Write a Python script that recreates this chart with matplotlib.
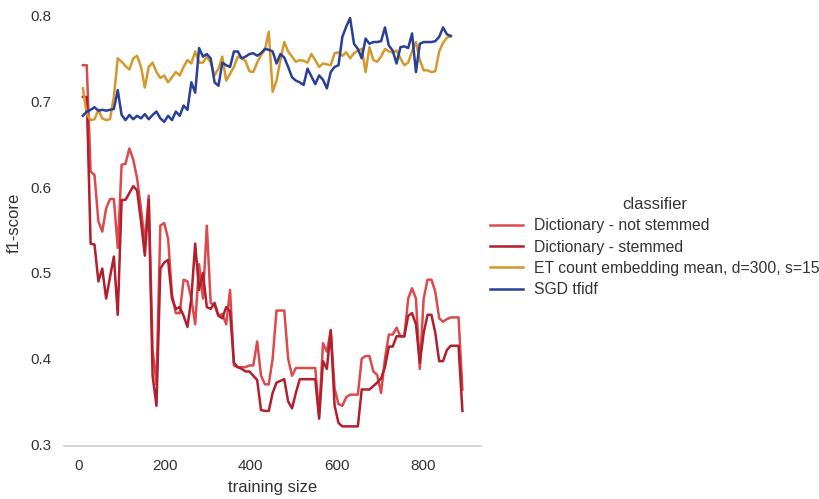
import numpy as np
import matplotlib
matplotlib.use("Agg")
import matplotlib.pyplot as plt

plt.rcParams['font.family'] = ['Liberation Sans', 'DejaVu Sans']

# training sizes (shared grid)
train_size = list(range(10, 893, 9))          # 99 points
train_size_short = train_size[:96]            # last two classifiers stop earlier

dict_not_stemmed = [
    .742, .742, .618, .614, .560, .548, .575, .586, .586, .529,
    .626, .627, .645, .632, .610, .575, .535, .590, .410, .370,
    .555, .558, .540, .475, .453, .453, .492, .490, .470, .440,
    .510, .470, .555, .465, .462, .450, .452, .440, .480, .392,
    .390, .390, .390, .392, .392, .420, .380, .370, .370, .400,
    .456, .456, .456, .400, .380, .389, .389, .389, .389, .389,
    .389, .335, .418, .408, .433, .365, .347, .345, .355, .358,
    .358, .358, .400, .403, .403, .385, .381, .360, .400, .428,
    .428, .436, .426, .426, .470, .482, .470, .388, .470, .492,
    .492, .478, .447, .443, .446, .448, .448, .448, .364]

dict_stemmed = [
    .705, .705, .534, .533, .490, .505, .470, .495, .519, .451,
    .585, .585, .593, .601, .596, .560, .520, .585, .380, .345,
    .505, .512, .515, .470, .458, .460, .450, .437, .470, .534,
    .480, .500, .460, .458, .465, .450, .447, .460, .455, .395,
    .390, .388, .385, .385, .380, .375, .340, .339, .339, .360,
    .372, .374, .376, .350, .342, .360, .376, .376, .376, .376,
    .376, .330, .397, .388, .433, .345, .325, .321, .321, .321,
    .321, .321, .364, .364, .364, .368, .372, .377, .390, .414,
    .414, .426, .426, .426, .450, .453, .440, .395, .430, .451,
    .451, .430, .397, .397, .410, .415, .415, .415, .339]

et_embedding = [
    .715, .685, .678, .679, .690, .680, .678, .679, .705, .750,
    .746, .741, .737, .750, .753, .740, .716, .740, .745, .734,
    .727, .730, .722, .728, .734, .730, .740, .748, .744, .758,
    .745, .745, .752, .745, .730, .738, .752, .724, .732, .740,
    .752, .750, .747, .735, .734, .745, .754, .760, .781, .711,
    .724, .748, .769, .758, .752, .746, .748, .747, .745, .755,
    .748, .740, .744, .743, .742, .756, .757, .753, .757, .750,
    .756, .759, .761, .734, .763, .748, .746, .752, .761, .758,
    .757, .759, .750, .742, .745, .758, .769, .748, .736, .736,
    .734, .735, .758, .768, .774, .776]

sgd_tfidf = [
    .683, .688, .690, .693, .689, .690, .689, .690, .691, .713,
    .684, .678, .684, .679, .683, .680, .685, .679, .684, .688,
    .680, .676, .683, .678, .688, .683, .695, .690, .722, .710,
    .762, .752, .755, .750, .722, .718, .745, .742, .740, .758,
    .758, .750, .752, .755, .756, .753, .756, .761, .760, .758,
    .744, .755, .751, .740, .728, .724, .722, .719, .738, .729,
    .720, .730, .725, .715, .734, .740, .742, .775, .787, .797,
    .767, .761, .750, .773, .767, .769, .769, .770, .786, .765,
    .759, .744, .763, .764, .762, .779, .734, .767, .769, .769,
    .769, .770, .775, .786, .778, .776]

labels = ["Dictionary - not stemmed", "Dictionary - stemmed",
          "ET count embedding mean, d=300, s=15", "SGD tfidf"]
colors = ["#dc4a4e", "#b21f2d", "#d4982c", "#2a3f96"]

fig = plt.figure(figsize=(8.2, 4.99), dpi=100)
ax = fig.add_axes([0.078, 0.106, 0.509, 0.894])

series = [(train_size, dict_not_stemmed), (train_size, dict_stemmed),
          (train_size_short, et_embedding), (train_size_short, sgd_tfidf)]
handles = []
for (xs, ys), lab, col in zip(series, labels, colors):
    h, = ax.plot(xs, ys, color=col, lw=1.8, label=lab)
    handles.append(h)

ax.set_ylim(0.298, 0.818)
ax.set_xlim(-34, 936)
ax.set_yticks([0.3, 0.4, 0.5, 0.6, 0.7, 0.8])
ax.set_yticklabels(["0.3", "0.4", "0.5", "0.6", "0.7", "0.8"])
ax.set_xticks([0, 200, 400, 600, 800])
for s in ["top", "right", "left"]:
    ax.spines[s].set_visible(False)
ax.spines["bottom"].set_color("#cccccc")
ax.spines["bottom"].set_linewidth(1.2)
ax.tick_params(length=0, labelsize=11, colors="#333333", pad=9)
ax.set_xlabel("training size", fontsize=12, color="#333333", labelpad=5)
ax.set_ylabel("f1-score", fontsize=12, color="#333333", labelpad=6)
ax.grid(False)

leg = fig.legend(handles=handles, labels=labels, loc="center left",
                 bbox_to_anchor=(0.580, 0.505), frameon=False,
                 title="classifier", fontsize=11.3, title_fontsize=12,
                 handlelength=2.15, handletextpad=0.7, labelspacing=0.4)
for t in leg.get_texts():
    t.set_color("#333333")
leg.get_title().set_color("#333333")

fig.savefig("out.png", dpi=100)
